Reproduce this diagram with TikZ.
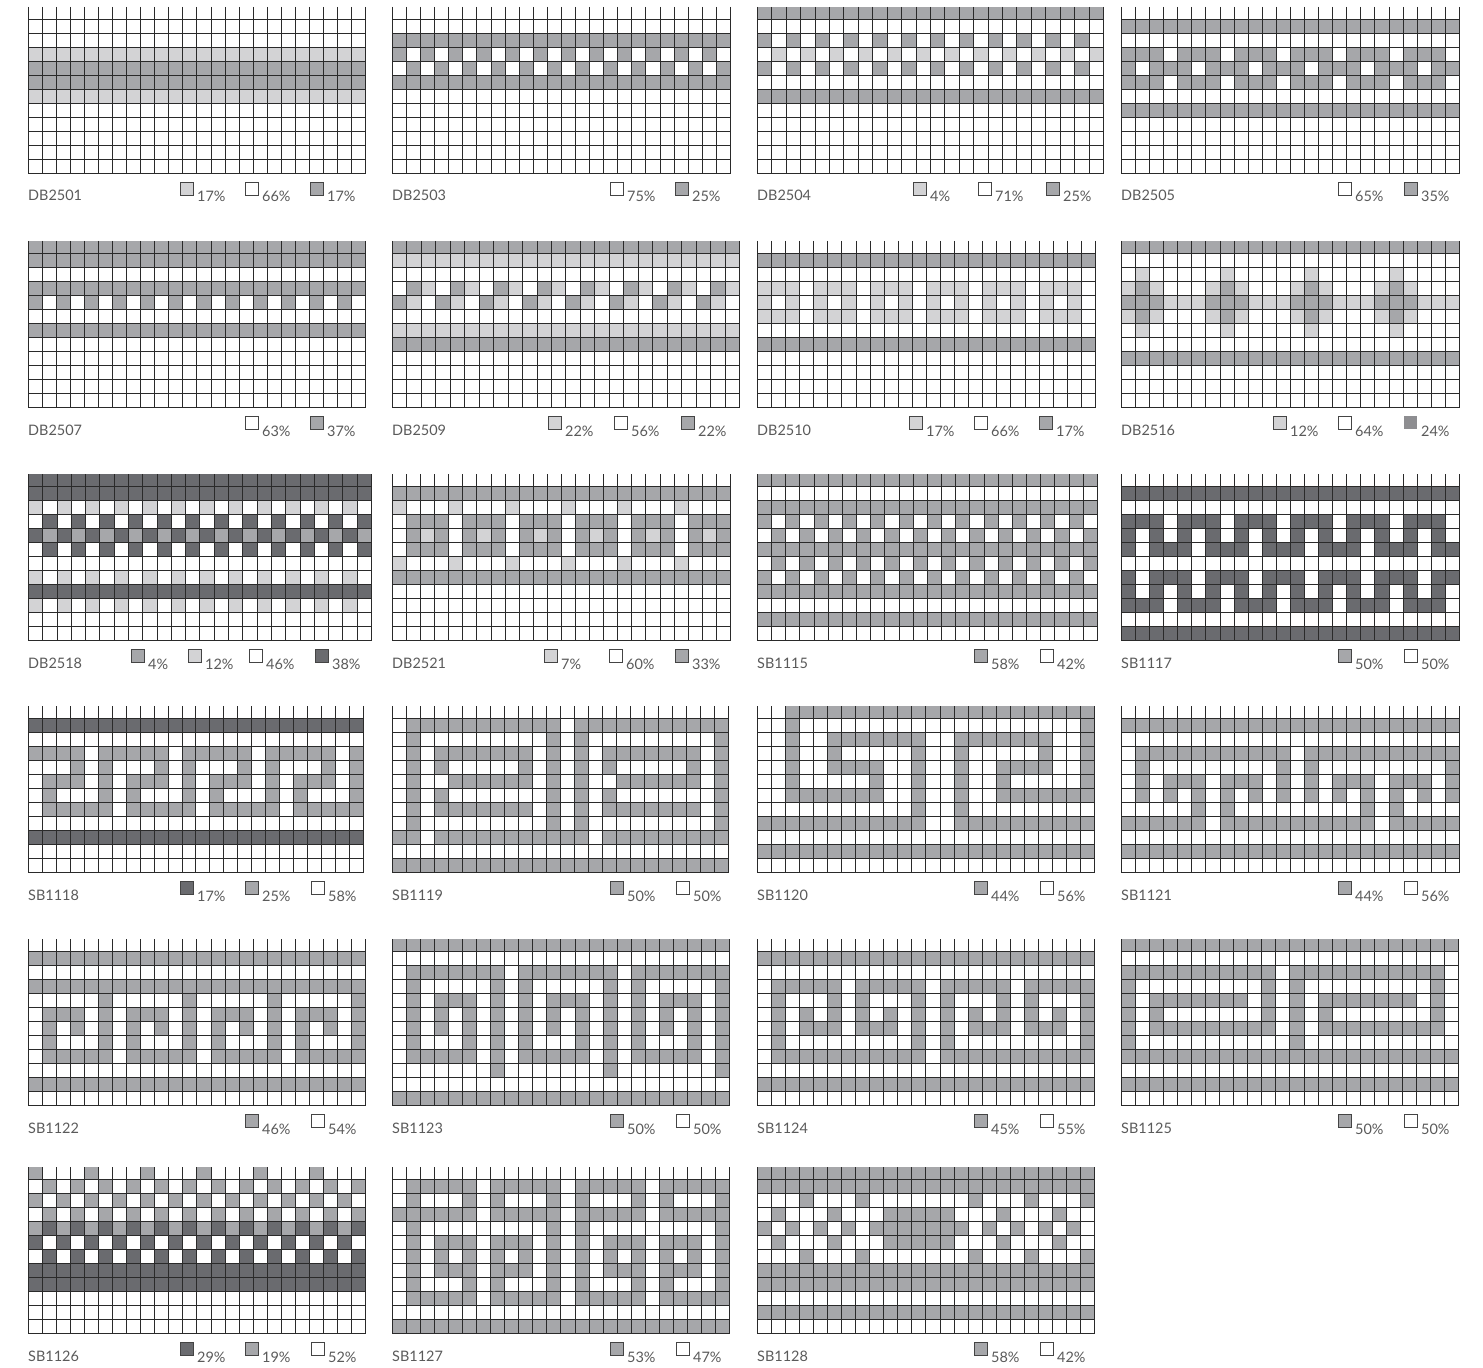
\documentclass[tikz,border=0pt]{standalone}
\usepackage{fontspec}
\setmainfont{Lato}
\definecolor{lightg}{HTML}{D3D3D5}
\definecolor{midg}{HTML}{A6A7AA}
\definecolor{darkg}{HTML}{6A6B6F}
\definecolor{legdk}{HTML}{8E8E91}
\definecolor{gridc}{HTML}{2A2A2A}
\definecolor{swc}{HTML}{444444}
\definecolor{txtc}{HTML}{5A5A5A}
\tikzset{
  gridl/.style={draw=gridc,line width=1.4bp},
  lbl/.style={anchor=base west,inner sep=0pt,text=txtc,font=\fontsize{14.5}{14.5}\selectfont},
  pct/.style={anchor=base west,inner sep=0pt,text=txtc,font=\fontsize{14.5}{14.5}\selectfont},
  swatch/.style={draw=swc,line width=1bp}
}
\newcount\cidx
\def\prow#1{\cidx=0 \pchar#1\relax}
\def\pchar#1{\ifx\relax#1\else\pcell#1\advance\cidx by 1 \expandafter\pchar\fi}
\def\pcell#1{%
  \def\cc{}%
  \if#1m\def\cc{midg}\fi
  \if#1l\def\cc{lightg}\fi
  \if#1d\def\cc{darkg}\fi
  \ifx\cc\empty\else
    \pgfmathsetmacro\xa{round(\pL+\the\cidx*\cwid)+0.5}%
    \pgfmathsetmacro\xb{round(\pL+(\the\cidx+1)*\cwid)+0.5}%
    \ifnum\rr=0\relax
      \pgfmathsetmacro\ya{round(\pT-11.2)}%
      \pgfmathsetmacro\yb{round(\pT)+0.5}%
    \else
      \pgfmathsetmacro\ya{round(\pT+(\rr-1)*14.05)+0.5}%
      \pgfmathsetmacro\yb{round(\pT+\rr*14.05)+0.5}%
    \fi
    \fill[fill=\cc] (\xa,\ya) rectangle (\xb,\yb);
  \fi}
\def\rW{wwwwww wwwwww wwwwww wwwwww}
\def\rM{mmmmmm mmmmmm mmmmmm mmmmmm}
\def\rLt{llllll llllll llllll llllll}
\def\rD{dddddd dddddd dddddd dddddd}
% #1 L, #2 R, #3 bottom, #4 label, #5 rows
\newcommand\pnl[5]{%
  \def\pL{#1}%
  \pgfmathsetmacro\cwid{(#2-#1)/24}%
  \pgfmathsetmacro\pT{#3-154.5}%
  \foreach \rowstr [count=\rr from 0] in {#5}{%
    \edef\tmprow{\rowstr}%
    \expandafter\prow\expandafter{\tmprow}}
  \pgfmathsetmacro\ytop{round(\pT-11.2)}%
  \pgfmathsetmacro\ybot{round(\pT+11*14.05)+0.5}%
  \pgfmathsetmacro\xl{round(\pL)+0.5}%
  \pgfmathsetmacro\xr{round(\pL+24*\cwid)+0.5}%
  \foreach \i in {0,...,24}{%
    \pgfmathsetmacro\xx{round(\pL+\i*\cwid)+0.5}%
    \draw[gridl] (\xx,\ytop) -- (\xx,\ybot);}
  \foreach \j in {0,...,11}{%
    \pgfmathsetmacro\yy{round(\pT+\j*14.05)+0.5}%
    \draw[gridl,line cap=rect] (\xl,\yy) -- (\xr,\yy);}
  \node[lbl] (n#4) at (#1,#3+28) {#4};
}
% #1 x, #2 bottom, #3 colour, #4 text
\newcommand\leg{\legx}
\newcommand\legx[4]{%
  \filldraw[swatch,fill=#3] (#1+0.5,#2+9.5) rectangle ++(13,13);
  \node[pct] (p#1x#2) at (#1+17,#2+29) {#4};
}
\begin{document}
\begin{tikzpicture}[x=1bp,y=-1bp]
\fill[white] (0,0) rectangle (1483,1368);
\useasboundingbox (0,0) rectangle (1483,1368);
% ---------------- row 1
\pnl{28}{365}{173}{DB2501}{\rW,\rW,\rW,\rLt,\rM,\rM,\rLt,\rW,\rW,\rW,\rW,\rW}
\leg{180}{173}{lightg}{17\%}\leg{245}{173}{white}{66\%}\leg{310}{173}{midg}{17\%}
\pnl{392}{730}{173}{DB2503}{\rW,\rW,\rM,mwmwmw mwmwmw mwmwmw mwmwmw,wmwmwm wmwmwm wmwmwm wmwmwm,\rM,\rW,\rW,\rW,\rW,\rW,\rW}
\leg{610}{173}{white}{75\%}\leg{675}{173}{midg}{25\%}
\pnl{757}{1103}{173}{DB2504}{\rM,\rW,mwmwmw mwmwmw mwmwmw mwmwmw,wlwlwl wlwlwl wlwlwl wlwlwl,mwmwmw mwmwmw mwmwmw mwmwmw,\rW,\rM,\rW,\rW,\rW,\rW,\rW}
\leg{913}{173}{lightg}{4\%}\leg{978}{173}{white}{71\%}\leg{1046}{173}{midg}{25\%}
\pnl{1121}{1459}{173}{DB2505}{\rW,\rM,\rW,mmmwmm mwmmmw mmmwmm mwmmmw,mwmmmw mmmwmm mwmmmw mmmwmm,mmmwmm mwmmmw mmmwmm mwmmmw,\rW,\rM,\rW,\rW,\rW,\rW}
\leg{1338}{173}{white}{65\%}\leg{1404}{173}{midg}{35\%}
% ---------------- row 2
\pnl{28}{365}{407}{DB2507}{\rM,\rM,\rW,\rM,mwmwmw mwmwmw mwmwmw mwmwmw,\rW,\rM,\rW,\rW,\rW,\rW,\rW}
\leg{245}{407}{white}{63\%}\leg{310}{407}{midg}{37\%}
\pnl{392}{739}{407}{DB2509}{\rM,\rLt,\rW,wmlwml wmlwml wmlwml wmlwml,mlwmlw mlwmlw mlwmlw mlwmlw,\rW,\rLt,\rM,\rW,\rW,\rW,\rW}
\leg{548}{407}{lightg}{22\%}\leg{614}{407}{white}{56\%}\leg{681}{407}{midg}{22\%}
\pnl{757}{1095}{407}{DB2510}{\rW,\rM,\rW,lllwll lwlllw lllwll lwlllw,lwlwlw lwlwlw lwlwlw lwlwlw,lllwll lwlllw lllwll lwlllw,\rW,\rM,\rW,\rW,\rW,\rW}
\leg{909}{407}{lightg}{17\%}\leg{974}{407}{white}{66\%}\leg{1039}{407}{midg}{17\%}
\pnl{1121}{1459}{407}{DB2516}{\rM,\rW,wlwwww wlwwww wlwwww wlwwww,lmlwww lmlwww lmlwww lmlwww,mmmlll mmmlll mmmlll mmmlll,lmlwww lmlwww lmlwww lmlwww,wlwwww wlwwww wlwwww wlwwww,\rW,\rM,\rW,\rW,\rW}
\leg{1273}{407}{lightg}{12\%}\leg{1338}{407}{white}{64\%}
\fill[legdk] (1404,416) rectangle ++(13,13);\node[pct] (p1404x407) at (1421,436) {24\%};
% ---------------- row 3
\pnl{28}{371}{640}{DB2518}{\rD,\rD,lwlwlw lwlwlw lwlwlw lwlwlw,wdwdwd wdwdwd wdwdwd wdwdwd,dmdmdm dmdmdm dmdmdm dmdmdm,wdwdwd wdwdwd wdwdwd wdwdwd,\rW,lwlwlw lwlwlw lwlwlw lwlwlw,\rD,lwlwlw lwlwlw lwlwlw lwlwlw,\rW,\rW}
\leg{131}{640}{midg}{4\%}\leg{188}{640}{lightg}{12\%}\leg{249}{640}{white}{46\%}\leg{315}{640}{darkg}{38\%}
\pnl{392}{730}{640}{DB2521}{\rW,\rM,lwwwlw wwlwww lwwwlw wwlwww,wmmmwm mmwmmm wmmmwm mmwmmm,wmlmwm lmwmlm wmlmwm lmwmlm,wmmmwm mmwmmm wmmmwm mmwmmm,lwwwlw wwlwww lwwwlw wwlwww,\rM,\rW,\rW,\rW,\rW}
\leg{544}{640}{lightg}{7\%}\leg{609}{640}{white}{60\%}\leg{675}{640}{midg}{33\%}
\pnl{757}{1097}{640}{SB1115}{\rM,\rW,\rM,mwmwmw mwmwmw mwmwmw mwmwmw,wmwmwm wmwmwm wmwmwm wmwmwm,\rM,wmwmwm wmwmwm wmwmwm wmwmwm,mwmwmw mwmwmw mwmwmw mwmwmw,\rM,\rW,\rM,\rW}
\leg{974}{640}{midg}{58\%}\leg{1040}{640}{white}{42\%}
\pnl{1121}{1459}{640}{SB1117}{\rW,\rD,\rW,dddwdd dwdddw dddwdd dwdddw,dwdwdw dwdwdw dwdwdw dwdwdw,dwdddw dddwdd dwdddw dddwdd,\rW,dwdddw dddwdd dwdddw dddwdd,dwdwdw dwdwdw dwdwdw dwdwdw,dddwdd dwdddw dddwdd dwdddw,\rW,\rD}
\leg{1338}{640}{midg}{50\%}\leg{1404}{640}{white}{50\%}
% ---------------- row 4
\pnl{28}{363}{872}{SB1118}{\rW,\rD,\rW,mmmmwm mmmmwm mmmmwm mmmmwm,wwwmwm wwwmwm wwwmwm wwwmwm,wmmmwm wmmmwm wmmmwm wmmmwm,wmwwwm wmwwwm wmwwwm wmwwwm,wmmmmm wmmmmm wmmmmm wmmmmm,\rW,\rD,\rW,\rW}
\leg{180}{872}{darkg}{17\%}\leg{245}{872}{midg}{25\%}\leg{311}{872}{white}{58\%}
\pnl{392}{728}{872}{SB1119}{\rW,wmmmmm mmmmmm wmmmmm mmmmmm,wmwwww wwwwwm wmwwww wwwwwm,wmwmmm mmmmwm wmwmmm mmmmwm,wmwmww wwwmwm wmwmww wwwmwm,wmwwmm mmmmwm wmwwmm mmmmwm,wmwmww wwwwwm wmwmww wwwwwm,wmwmmm mmmmwm wmwmmm mmmmwm,wmwwww wwwwwm wmwwww wwwwwm,mmwmmm mmmmmm mmwmmm mmmmmm,\rW,\rM}
\leg{610}{872}{midg}{50\%}\leg{676}{872}{white}{50\%}
\pnl{757}{1094}{872}{SB1120}{wwmmmm mmmmmm mmmmmm mmmmmm,wwmwww wwwwww wwwwww wwwwwm,wwmwwm mmmmmm wwmmmm mmmwwm,wwmwwm wwwwwm wwmwww wwmwwm,wwmwwm mmmwwm wwmwwm mmmwwm,wwmwww wwmwwm wwmwwm wwwwwm,wwmmmm mmmwwm wwmwwm mmmmmm,wwwwww wwwwwm wwmwww wwwwww,mmmmmm mmmmmm wwmmmm mmmmmm,\rW,\rM,\rW}
\leg{974}{872}{midg}{44\%}\leg{1040}{872}{white}{56\%}
\pnl{1121}{1459}{872}{SB1121}{\rW,\rM,\rW,wmmmmm mmmmmm wmmmmm mmmmmm,wmwwww wwwwwm wmwwww wwwwwm,wmwmmm wmmmwm wmwmmm wmmmwm,wmwmwm wmwmwm wmwmwm wmwmwm,wwwwwm wmwwww wwwwwm wmwwww,mmmmmm wmmmmm mmmmmm wmmmmm,\rW,\rM,\rW}
\leg{1338}{872}{midg}{44\%}\leg{1404}{872}{white}{56\%}
% ---------------- row 5
\pnl{28}{365}{1105}{SB1122}{\rW,\rM,\rW,\rM,wwwwwm wwwwwm wwwwwm wwwwwm,wmmmwm wmmmwm wmmmwm wmmmwm,wmwmwm wmwmwm wmwmwm wmwmwm,wmwwwm wmwwwm wmwwwm wmwwwm,wmmmmm wmmmmm wmmmmm wmmmmm,\rW,\rM,\rW}
\leg{245}{1105}{midg}{46\%}\leg{311}{1105}{white}{54\%}
\pnl{392}{729}{1105}{SB1123}{\rM,\rW,wmmmmmmm wmmmmmmm wmmmmmmm,wmwwwwwm wmwwwwwm wmwwwwwm,wmwmmmwm wmwmmmwm wmwmmmwm,wmwmwmwm wmwmwmwm wmwmwmwm,wmwmwmwm wmwmwmwm wmwmwmwm,wmwwwmwm wmwwwmwm wmwwwmwm,wmmmmmwm wmmmmmwm wmmmmmwm,wwwwwwwm wwwwwwwm wwwwwwwm,\rW,\rM}
\leg{610}{1105}{midg}{50\%}\leg{676}{1105}{white}{50\%}
\pnl{757}{1094}{1105}{SB1124}{\rW,\rM,\rW,wmmmmm wmmmmm wmmmmm wmmmmm,wmwwwm wmwwwm wmwwwm wmwwwm,wmwmwm wmwmwm wmwmwm wmwmwm,wmwmmm wmmmwm wmwmmm wmmmwm,wmwwww wwwwwm wmwwww wwwwwm,wmmmmm mmmmmm wmmmmm mmmmmm,\rW,\rM,\rW}
\leg{974}{1105}{midg}{45\%}\leg{1040}{1105}{white}{55\%}
\pnl{1121}{1458}{1105}{SB1125}{\rM,\rW,mmmmmm mmmmmw mmmmmm mmmmmw,mwwwww wwwwmw mwwwww wwwwmw,mwmmmm mmmwmw mwmmmm mmmwmw,mwmwww wwwwmw mwmwww wwwwmw,mwmmmm mmmmmw mwmmmm mmmmmw,mwwwww wwwwww mwwwww wwwwww,\rM,\rW,\rM,\rW}
\leg{1338}{1105}{midg}{50\%}\leg{1404}{1105}{white}{50\%}
% ---------------- row 6
\pnl{28}{365}{1333}{SB1126}{mwwwmw wwmwww mwwwmw wwmwww,wmwmwm wmwmwm wmwmwm wmwmwm,mwmwmw mwmwmw mwmwmw mwmwmw,wmwmwm wmwmwm wmwmwm wmwmwm,mdmdmd mdmdmd mdmdmd mdmdmd,dwdwdw dwdwdw dwdwdw dwdwdw,wdwdwd wdwdwd wdwdwd wdwdwd,\rD,\rD,\rW,\rW,\rW}
\leg{180}{1333}{darkg}{29\%}\leg{245}{1333}{midg}{19\%}\leg{311}{1333}{white}{52\%}
\pnl{392}{729}{1333}{SB1127}{\rW,wmmmmm wmmmmm wmmmmm wmmmmm,wmwwwm wmwwwm wmwwwm wmwwwm,mmmmmm wmmmmm wmmmmm wmmmmm,wmwwww wwwwwm wmwwww wwwwwm,wmwmmm wmmmwm wmwmmm wmmmwm,wmwmwm wmwmwm wmwmwm wmwmwm,wmwmmm wmmmwm wmwmmm wmmmwm,wmwwwm wmwwwm wmwwwm wmwwwm,wmmmmm wmmmmm wmmmmm wmmmmm,\rW,\rM}
\leg{610}{1333}{midg}{53\%}\leg{676}{1333}{white}{47\%}
\pnl{757}{1094}{1333}{SB1128}{\rM,\rM,wwwmww wmwwww wwwmww wmwwwm,wmwwwm wwwmmm mmwwwm wwwmww,mwmwmw mwmmmm mmmwmw mwmwmw,wmwwwm wwwmmm mmwwwm wwwmww,wwwmww wmwwww wwwmww wmwwwm,\rM,\rM,\rW,\rM,\rW}
\leg{974}{1333}{midg}{58\%}\leg{1040}{1333}{white}{42\%}
\end{tikzpicture}
\end{document}
